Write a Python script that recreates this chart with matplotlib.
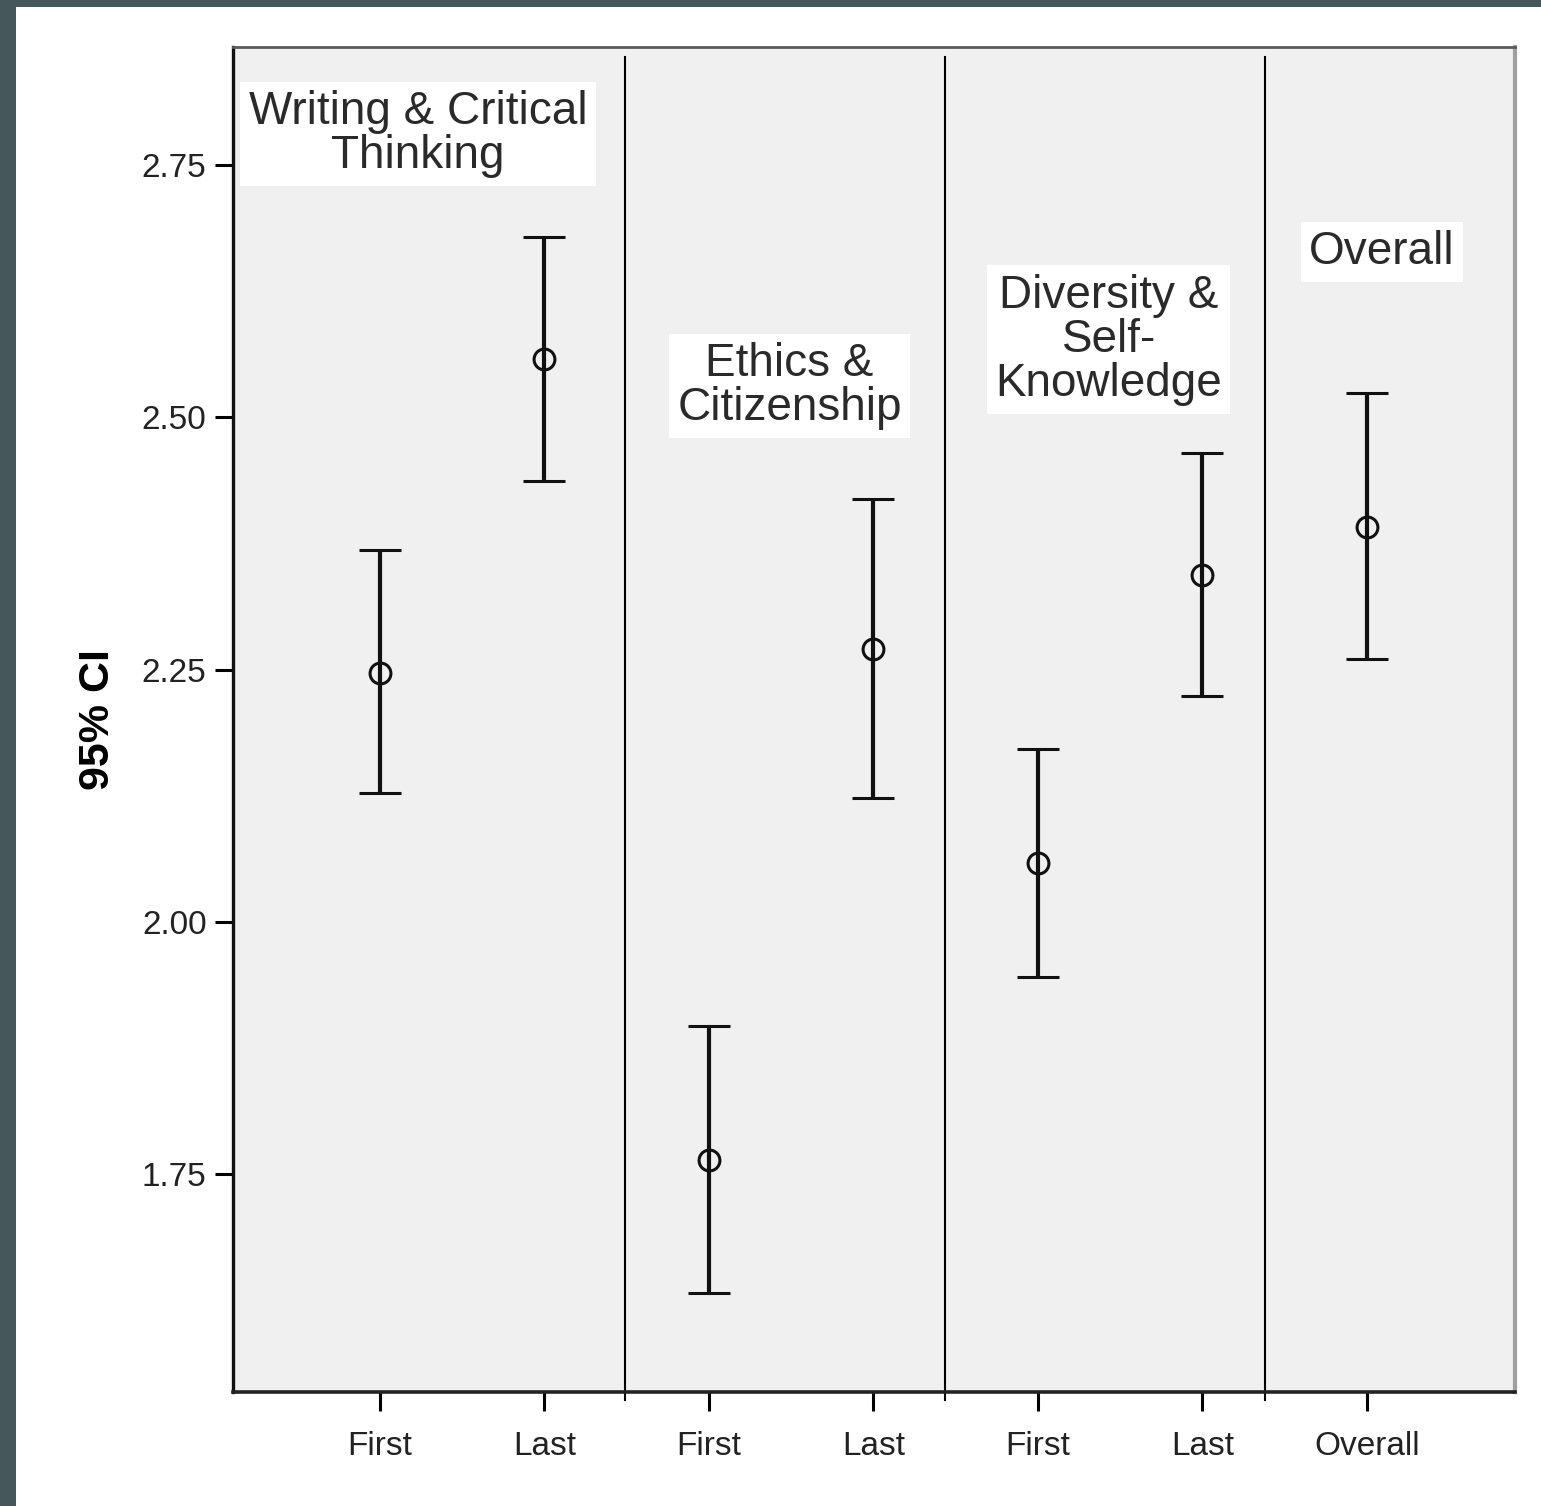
import matplotlib
matplotlib.use("Agg")
import matplotlib.pyplot as plt
from matplotlib.patches import Rectangle

plt.rcParams['font.family'] = ['Liberation Sans', 'DejaVu Sans']

# Data
tick_labels = ["First", "Last", "First", "Last", "First", "Last", "Overall"]
means = [2.247, 2.558, 1.764, 2.270, 2.058, 2.344, 2.391]
upper = [2.368, 2.679, 1.897, 2.419, 2.171, 2.465, 2.524]
lower = [2.128, 2.437, 1.632, 2.123, 1.945, 2.224, 2.260]
group_names = ["Writing & Critical\nThinking", "Ethics &\nCitizenship",
               "Diversity &\nSelf-\nKnowledge", "Overall"]
group_label_x = [1.231, 3.49, 5.43, 7.09]
group_label_y = [2.781, 2.531, 2.577, 2.664]
dividers = [2.49, 4.435, 6.38]
yticks = [1.75, 2.00, 2.25, 2.50, 2.75]

fig = plt.figure(figsize=(15.41, 15.06), dpi=100)
fig.patch.set_facecolor('#46575b')
bg = Rectangle((16/1541, 0), 1 - 16/1541, (1506-7)/1506,
               transform=fig.transFigure, facecolor='white',
               edgecolor='none', zorder=-10)
fig.patches.append(bg)

ax = fig.add_axes([233/1541, 1 - 1392/1506, (1515-233)/1541, (1392-47)/1506])
ax.set_zorder(1)
ax.set_facecolor('#f0f0f0')

xs = list(range(1, len(means) + 1))
yerr = [[m - l for m, l in zip(means, lower)], [u - m for m, u in zip(means, upper)]]
ax.errorbar(xs, means, yerr=yerr, fmt='o', color='#111111', ecolor='#111111',
            elinewidth=3.0, capsize=15, capthick=3.8, markersize=15,
            markerfacecolor='none', markeredgewidth=2.2, zorder=3)

for d in dividers:
    ax.axvline(d, ymin=-0.006, ymax=0.9926, color='black', lw=1.5, clip_on=False, zorder=2)

for name, x, y in zip(group_names, group_label_x, group_label_y):
    ax.text(x, y, name, ha='center', va='center', fontsize=33, color='#2a2a2a',
            linespacing=1.0,
            bbox=dict(boxstyle='square,pad=0.18', facecolor='white', edgecolor='none'),
            zorder=4)

ax.set_xlim(0.1064, 7.8997)
ax.set_ylim(1.534, 2.867)
ax.set_xticks(xs)
ax.set_xticklabels(tick_labels, fontsize=24, color='#222222')
ax.set_yticks(yticks)
ax.set_yticklabels([f"{v:.2f}" for v in yticks], fontsize=24, color='#222222')
ax.tick_params(axis='y', length=13, width=2.2, direction='out', pad=6)
ax.tick_params(axis='x', length=14, width=2.2, direction='out', pad=14)

ax.set_ylabel("95% CI", fontsize=31, fontweight='bold')
ax.yaxis.set_label_coords(-0.0897, 0.5)

ax.spines['left'].set_linewidth(2.4)
ax.spines['bottom'].set_linewidth(2.6)
ax.spines['left'].set_color('#111111')
ax.spines['bottom'].set_color('#222222')
ax.spines['top'].set_linewidth(2.0)
ax.spines['top'].set_color('#5a5a5a')
ax.spines['right'].set_linewidth(3.0)
ax.spines['right'].set_color('#a0a0a0')

fig.savefig("out.png", dpi=100, facecolor=fig.get_facecolor())
